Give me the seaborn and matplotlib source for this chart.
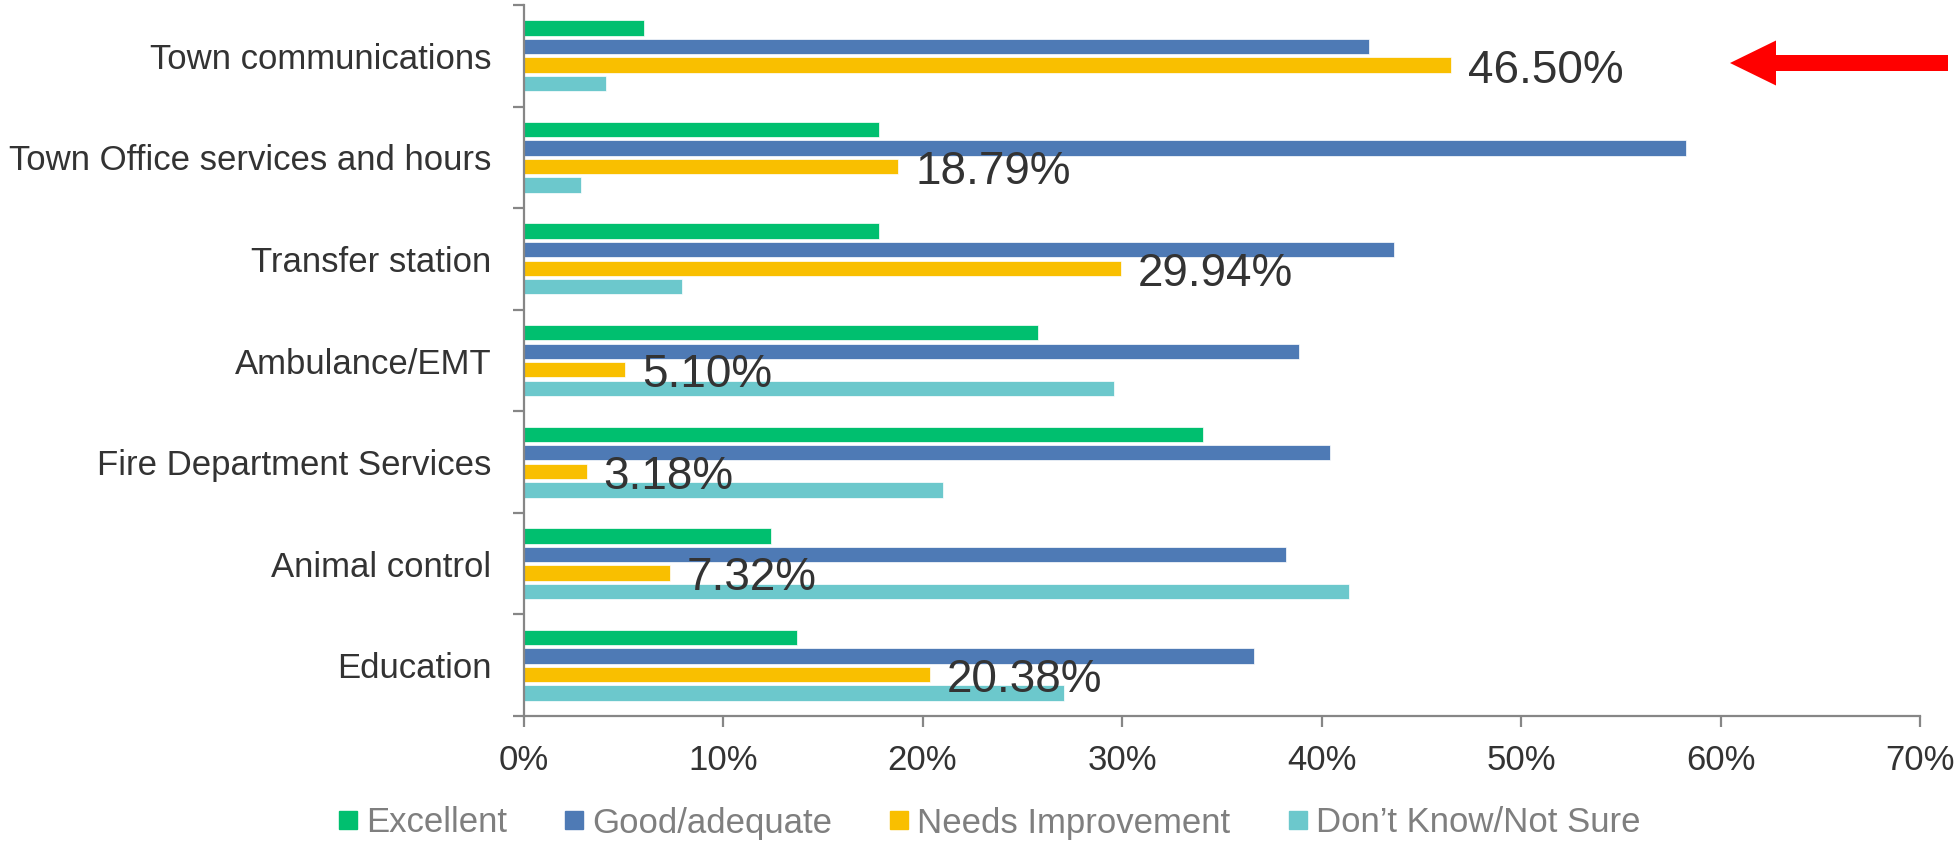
import numpy as np
import pandas as pd
import matplotlib
matplotlib.use("Agg")
import matplotlib.pyplot as plt
from matplotlib.lines import Line2D
from matplotlib.patches import FancyArrow
import seaborn as sns

# Survey data (percent of respondents)
services = ["Town communications", "Town Office services and hours", "Transfer station",
            "Ambulance/EMT", "Fire Department Services", "Animal control", "Education"]
ratings = ["Excellent", "Good/adequate", "Needs Improvement", "Don\u2019t Know/Not Sure"]
excellent = [6.05, 17.83, 17.83, 25.80, 34.08, 12.42, 13.69]
good = [42.36, 58.28, 43.63, 38.85, 40.45, 38.22, 36.62]
needs_improvement = [46.50, 18.79, 29.94, 5.10, 3.18, 7.32, 20.38]
dont_know = [4.14, 2.87, 7.96, 29.62, 21.02, 41.40, 27.07]
x_ticks = [0, 10, 20, 30, 40, 50, 60, 70]

colors = ["#00BF6F", "#4E7AB5", "#F9BF00", "#6CC8CC"]

df = pd.DataFrame({
    "service": services * 4,
    "rating": np.repeat(ratings, len(services)),
    "pct": excellent + good + needs_improvement + dont_know,
})

sns.set_style("white")
plt.rcParams["font.family"] = ["Liberation Sans", "DejaVu Sans"]

fig = plt.figure(figsize=(19.56, 8.41), dpi=100)
ax = fig.add_axes([523.5 / 1956, 1 - 716 / 841, (1920 - 523.5) / 1956, (716 - 5) / 841])

sns.barplot(data=df, x="pct", y="service", hue="rating", order=services, hue_order=ratings,
            palette=colors, orient="h", width=0.73, gap=0.17, edgecolor="white",
            linewidth=0.5, saturation=1, legend=False, ax=ax)

# data labels for "Needs Improvement"
for rect, v in zip(ax.containers[2], needs_improvement):
    ax.annotate(f"{v:.2f}%", (rect.get_width(), rect.get_y() + rect.get_height() / 2),
                xytext=(12, -4), textcoords="offset points", ha="left", va="center",
                fontsize=33, color="#333333")

ax.set_xlim(0, 70)
ax.set_ylim(len(services) - 0.5, -0.5)
ax.set_xticks(x_ticks)
ax.set_xticklabels([f"{t}%" for t in x_ticks])
ax.set_yticks(range(len(services)))
ax.set_yticklabels(services)
ax.set_yticks(np.arange(-0.5, len(services)), minor=True)
ax.set_xlabel("")
ax.set_ylabel("")

for side in ["top", "right"]:
    ax.spines[side].set_visible(False)
for side in ["left", "bottom"]:
    ax.spines[side].set_color("#868686")
    ax.spines[side].set_linewidth(1.6)

ax.tick_params(axis="y", which="major", length=0, pad=23, labelsize=25, labelcolor="#333333")
ax.tick_params(axis="y", which="minor", left=True, length=8, width=1.6, color="#868686")
ax.tick_params(axis="x", which="major", bottom=True, length=8, width=1.6, color="#868686",
               pad=12, labelsize=25, labelcolor="#333333")
ax.grid(False)

handles = [Line2D([], [], marker="s", linestyle="none", markersize=13,
                  markerfacecolor=c, markeredgecolor=c) for c in colors]
fig.legend(handles, ratings, loc="center", bbox_to_anchor=(0.506, 1 - 823 / 841), ncol=4,
           frameon=False, fontsize=25, labelcolor="#7F7F7F", handlelength=0.52,
           handletextpad=0.26, columnspacing=1.67)

# red arrow pointing at the top category
fig.add_artist(FancyArrow(19.48, 7.78, -2.18, 0, width=0.16, head_width=0.45, head_length=0.46,
                          length_includes_head=True, color="red", linewidth=0,
                          transform=fig.dpi_scale_trans))

fig.savefig("out.png", dpi=100)
